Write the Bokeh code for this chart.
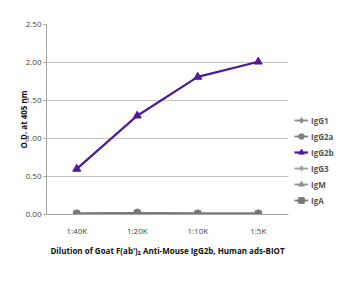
from bokeh.plotting import figure
from bokeh.models import Range1d, FactorRange, Legend, NumeralTickFormatter, FixedTicker
from bokeh.embed import file_html
from bokeh.resources import INLINE

dilutions = ["1:40K", "1:20K", "1:10K", "1:5K"]
igg1 = [0.01, 0.02, 0.01, 0.01]
igg2a = [0.01, 0.02, 0.01, 0.01]
igg2b = [0.60, 1.30, 1.81, 2.01]
igg3 = [0.01, 0.02, 0.01, 0.01]
igm = [0.01, 0.02, 0.01, 0.01]
iga = [0.01, 0.02, 0.01, 0.01]
y_ticks = [0.0, 0.5, 1.0, 1.5, 2.0, 2.5]

series = [
    ("IgG1", igg1, "#8a8a8a", "diamond", 1.8, 9),
    ("IgG2a", igg2a, "#7f7f7f", "circle", 1.8, 7),
    ("IgG3", igg3, "#a0a0a0", "asterisk", 1.8, 7),
    ("IgM", igm, "#959595", "triangle", 1.8, 7),
    ("IgA", iga, "#777777", "square", 1.8, 6),
    ("IgG2b", igg2b, "#4b1a9e", "triangle", 2.2, 8),
]
order = ["IgG1", "IgG2a", "IgG2b", "IgG3", "IgM", "IgA"]

p = figure(frame_width=242, frame_height=190, output_backend="svg", toolbar_location=None,
           x_range=FactorRange(*dilutions, range_padding=0),
           y_range=Range1d(0, 2.5),
           min_border_left=46, min_border_right=0, min_border_top=24, min_border_bottom=51)
p.outline_line_color = None
p.background_fill_color = "white"

items = {}
for name, vals, col, mk, lw, sz in series:
    r1 = p.line(dilutions, vals, line_color=col, line_width=lw)
    r2 = p.scatter(dilutions, vals, marker=mk, size=sz, fill_color=col, line_color=col)
    items[name] = [r1, r2]

legend = Legend(items=[(n, items[n]) for n in order], location="bottom_left")
legend.padding = 0
legend.margin = 6
legend.spacing = 0
legend.glyph_height = 16
legend.label_height = 16
legend.glyph_width = 14
legend.label_standoff = 3
legend.border_line_color = None
legend.background_fill_alpha = 0
legend.label_text_font = "Open Sans"
legend.label_text_font_size = "8px"
legend.label_text_font_style = "bold"
legend.label_text_color = "#555555"
p.add_layout(legend, "right")

p.xgrid.grid_line_color = None
p.ygrid.grid_line_color = "#c4c4c4"
p.ygrid.ticker = FixedTicker(ticks=y_ticks)
p.yaxis.ticker = FixedTicker(ticks=y_ticks)
p.yaxis.formatter = NumeralTickFormatter(format="0.00")

for ax in (p.xaxis[0], p.yaxis[0]):
    ax.axis_line_color = "#a6a6a6"
    ax.major_tick_line_color = "#a6a6a6"
    ax.minor_tick_line_color = None
    ax.major_label_text_font = "Open Sans"
    ax.major_label_text_font_size = "8px"
    ax.major_label_text_color = "#444444"
    ax.axis_label_text_font = "Open Sans"
    ax.axis_label_text_font_size = "8px"
    ax.axis_label_text_font_style = "bold"
    ax.axis_label_text_color = "#111111"

p.yaxis.major_tick_out = 3
p.yaxis.major_tick_in = 0
p.yaxis.major_label_standoff = 2
p.yaxis.axis_label = "O.D. at 405 nm"
p.yaxis.axis_label_standoff = -6

p.xaxis.major_tick_out = 0
p.xaxis.major_tick_in = 0
p.xaxis.major_label_standoff = 10
p.xaxis.axis_label = "Dilution of Goat F(ab')\u2082 Anti-Mouse IgG2b, Human ads-BIOT"
p.xaxis.axis_label_standoff = 6

open("out.html", "w").write(file_html(p, INLINE))
